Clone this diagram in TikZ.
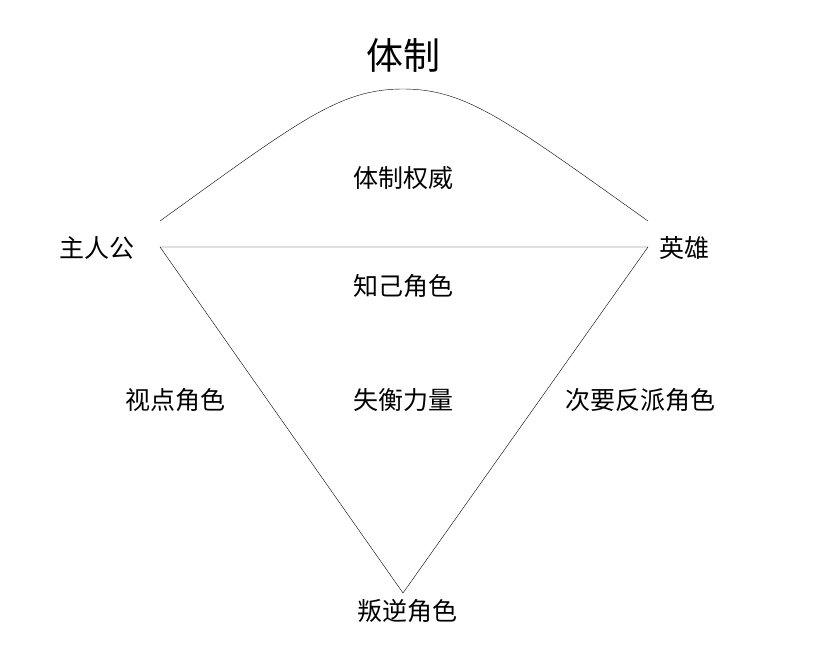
\documentclass[tikz,border=0pt]{standalone}
\usepackage{fontspec}
\newfontfamily\cjk{Noto Sans CJK SC}
\begin{document}
\begin{tikzpicture}[x=1pt,y=-1pt,
		lbl/.style={font=\cjk\fontsize{25}{28}\selectfont}]
		\useasboundingbox (0,0) rectangle (820,652);
		
		\coordinate (L) at (160,247);
		\coordinate (R) at (648,247);
		\coordinate (B) at (403,593);
		\draw (L) -- (R) -- (B) -- cycle;
		\draw (160,221) .. controls (300,120) and (340,89) .. (403,89) .. controls (466,89) and (506,120) .. (648,221);
		
		\node[font=\cjk\fontsize{37}{40}\selectfont] (title) at (403,55) {体制};
		\node[lbl] (auth) at (403,178) {体制权威};
		\node[lbl] (conf) at (403,286) {知己角色};
		\node[lbl] (imb) at (403,400) {失衡力量};
		\node[lbl] (pov) at (175,400) {视点角色};
		\node[lbl] (anta) at (640,400) {次要反派角色};
		\node[lbl] (rebel) at (407,611) {叛逆角色};
		\node[lbl] (prot) at (97,248) {主人公};
		\node[lbl] (hero) at (684,248) {英雄};
\end{tikzpicture}
\end{document}
